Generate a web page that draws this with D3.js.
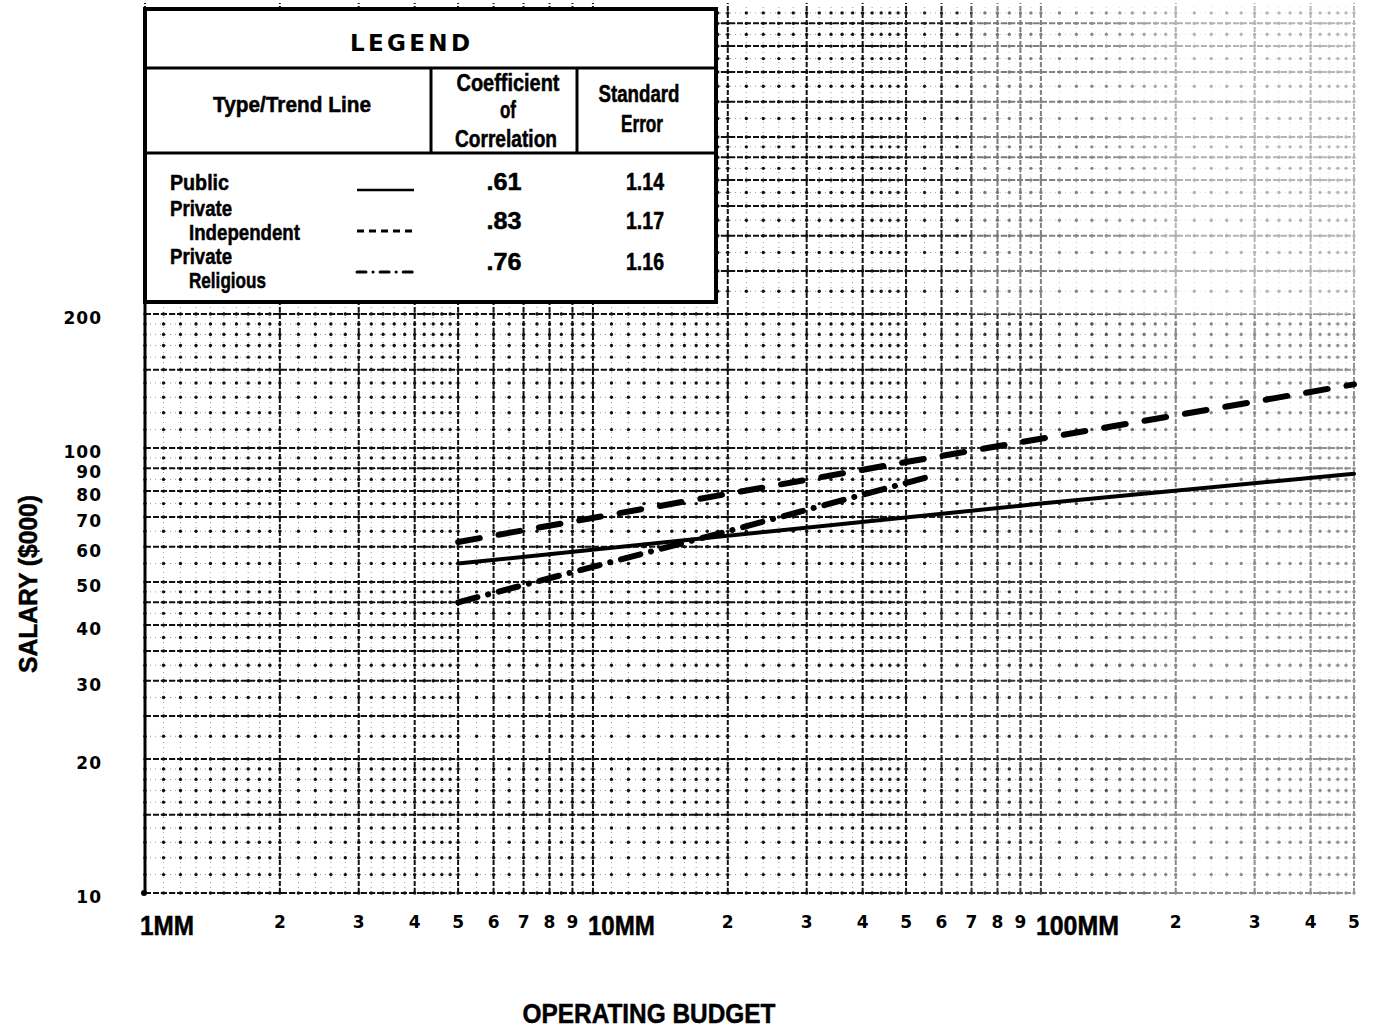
<!DOCTYPE html>
<html>
<head>
<meta charset="utf-8">
<script src="https://d3js.org/d3.v7.min.js"></script>
<style>
  body { margin: 0; background: #fff; }
  svg { display: block; }
  .narrow { font-family: 'Liberation Sans', Arial, sans-serif; font-weight: bold; stroke: #000; stroke-width: 0.5px; }
  .wide { font-family: 'DejaVu Sans', 'Liberation Sans', sans-serif; font-weight: bold; }
</style>
</head>
<body>
<div id="chart"></div>
<script>
// Trend lines (operating budget in $, salary in $000)
const publicLine = [
  { budget: 5e6, salary: 55 },
  { budget: 1e8, salary: 75 },
  { budget: 5e8, salary: 87.5 }
];
const independentLine = [
  { budget: 5e6, salary: 61.5 },
  { budget: 5e7, salary: 93 },
  { budget: 5e8, salary: 139 }
];
const religiousLine = [
  { budget: 5e6, salary: 45 },
  { budget: 2e7, salary: 65 },
  { budget: 5.7e7, salary: 86.5 }
];

// Legend table
const legendTypes = [['Public'], ['Private', 'Independent'], ['Private', 'Religious']];
const legendCoefficients = ['.61', '.83', '.76'];
const legendErrors = ['1.14', '1.17', '1.16'];

// Axis tick labels
const xTickValues = [1e6, 2e6, 3e6, 4e6, 5e6, 6e6, 7e6, 8e6, 9e6, 1e7, 2e7, 3e7, 4e7, 5e7, 6e7, 7e7, 8e7, 9e7, 1e8, 2e8, 3e8, 4e8, 5e8];
const xTickLabels = ['1MM', '2', '3', '4', '5', '6', '7', '8', '9', '10MM', '2', '3', '4', '5', '6', '7', '8', '9', '100MM', '2', '3', '4', '5'];
const yTickValues = [10, 20, 30, 40, 50, 60, 70, 80, 90, 100, 200];

const W = 1377, H = 1028;
const svg = d3.select('#chart').append('svg').attr('width', W).attr('height', H);

const x = d3.scaleLog().domain([1e6, 5e8]).range([145, 1354]);
const y = d3.scaleLog().domain([10, 1000]).range([893, 3]);

// condensed type is faked by squeezing Liberation Sans to a measured width
function narrowText(g, txt, px, py, size, width, anchor) {
  const t = g.append('text').attr('class', 'narrow')
    .attr('x', px).attr('y', py)
    .attr('text-anchor', anchor || 'start')
    .style('font-size', size + 'px')
    .text(txt);
  if (width) t.attr('textLength', width).attr('lengthAdjust', 'spacingAndGlyphs');
  return t;
}

// ---- graph paper grid ----
const xMinor = [], yMinor = [], xMajor = [], yMajor = [];
for (let dec = 1e6; dec < 5e8; dec *= 10) {
  for (let k = 1; k < 10; k++) { if (k * dec <= 5e8) xMajor.push(k * dec); }
  for (let v = 1; v < 10 - 1e-9; v += (v < 2 - 1e-9 ? 0.1 : v < 5 - 1e-9 ? 0.2 : 0.5)) {
    if (v * dec <= 5e8 + 1) xMinor.push(v * dec);
  }
}
for (let dec = 10; dec < 1000; dec *= 10) {
  [1, 1.5, 2, 2.5, 3, 3.5, 4, 4.5, 5, 6, 7, 8, 9].forEach(k => yMajor.push(k * dec));
  for (let v = 1; v < 10 - 1e-9; v += (v < 2 - 1e-9 ? 0.1 : v < 5 - 1e-9 ? 0.25 : 0.5)) yMinor.push(v * dec);
}

const grid = svg.append('g').attr('class', 'grid');
const [x0, x1] = x.range();
const [y0, y1] = y.range();

// faint dotted minor rules
grid.selectAll('.vmin').data(xMinor).enter().append('line')
  .attr('x1', d => x(d)).attr('x2', d => x(d)).attr('y1', y0).attr('y2', y1)
  .attr('stroke', '#444').attr('stroke-width', 0.9).attr('stroke-dasharray', '1,4').attr('opacity', 0.6);
grid.selectAll('.hmin').data(yMinor).enter().append('line')
  .attr('x1', x0).attr('x2', x1).attr('y1', d => y(d)).attr('y2', d => y(d))
  .attr('stroke', '#444').attr('stroke-width', 0.9).attr('stroke-dasharray', '1,4').attr('opacity', 0.6);

// dots at minor intersections
const dots = [];
xMinor.forEach(a => yMinor.forEach(b => dots.push([a, b])));
grid.selectAll('.dot').data(dots).enter().append('circle')
  .attr('cx', d => x(d[0])).attr('cy', d => y(d[1])).attr('r', 1.7).attr('fill', '#111');

// major rules, broken dashes like the printed paper
grid.selectAll('.vmaj').data(xMajor).enter().append('line')
  .attr('x1', d => x(d)).attr('x2', d => x(d)).attr('y1', y0).attr('y2', y1)
  .attr('stroke', '#111').attr('stroke-width', 2).attr('stroke-dasharray', '5,2');
grid.selectAll('.hmaj').data(yMajor).enter().append('line')
  .attr('x1', x0).attr('x2', x1).attr('y1', d => y(d)).attr('y2', d => y(d))
  .attr('stroke', '#111').attr('stroke-width', 2).attr('stroke-dasharray', '6,2');

// scan fades out toward the upper right
const fade = svg.append('defs').append('linearGradient').attr('id', 'fade')
  .attr('x1', 0).attr('x2', 1).attr('y1', 0).attr('y2', 0);
fade.append('stop').attr('offset', '0%').attr('stop-color', '#fff').attr('stop-opacity', 0);
fade.append('stop').attr('offset', '45%').attr('stop-color', '#fff').attr('stop-opacity', 0.25);
fade.append('stop').attr('offset', '60%').attr('stop-color', '#fff').attr('stop-opacity', 0.5);
fade.append('stop').attr('offset', '100%').attr('stop-color', '#fff').attr('stop-opacity', 0.55);
svg.append('rect').attr('x', x(4e7)).attr('y', 0).attr('width', W - x(4e7)).attr('height', y0 + 2)
  .attr('fill', 'url(#fade)');
svg.append('rect').attr('x', x(7e7)).attr('y', 0).attr('width', W - x(7e7)).attr('height', y(200))
  .attr('fill', '#fff').attr('opacity', 0.35);

// left frame
svg.append('line').attr('x1', x0).attr('x2', x0).attr('y1', 10).attr('y2', y0)
  .attr('stroke', '#000').attr('stroke-width', 3);
svg.append('circle').attr('cx', x0 - 1).attr('cy', y0).attr('r', 3).attr('fill', '#000');

// ---- trend lines ----
const line = d3.line().x(d => x(d.budget)).y(d => y(d.salary));
const styles = [
  { data: publicLine, dash: null, width: 4 },
  { data: independentLine, dash: '22,19', width: 6 },
  { data: religiousLine, dash: '20,11,0.1,11', width: 6 }
];
svg.append('g').selectAll('path').data(styles).enter().append('path')
  .attr('d', d => line(d.data))
  .attr('fill', 'none').attr('stroke', '#000')
  .attr('stroke-width', d => d.width)
  .attr('stroke-linecap', 'round')
  .attr('stroke-dasharray', d => d.dash);

// ---- axes labels ----
const xl = svg.append('g');
const bigWidths = { '1MM': 54, '10MM': 67, '100MM': 83 };
xTickValues.forEach((v, i) => {
  const lab = xTickLabels[i];
  if (bigWidths[lab]) {
    narrowText(xl, lab, x(v) - 5, 935, 27, bigWidths[lab]);
  } else {
    xl.append('text').attr('class', 'wide')
      .attr('x', x(v)).attr('y', 928)
      .attr('text-anchor', 'middle')
      .style('font-size', '17px')
      .text(lab);
  }
});

const yl = svg.append('g');
yl.selectAll('text').data(yTickValues).enter().append('text')
  .attr('class', 'wide')
  .attr('x', 102).attr('y', d => y(d) + 10)
  .attr('text-anchor', 'end')
  .style('font-size', '17px').style('letter-spacing', '1px')
  .text(d => d);

narrowText(svg, 'SALARY ($000)', 0, 0, 26, 178, 'middle')
  .attr('transform', 'translate(37,584) rotate(-90)');

narrowText(svg, 'OPERATING BUDGET', 649, 1023, 27, 253, 'middle');

// ---- legend table ----
const lg = svg.append('g');
lg.append('rect').attr('x', 145).attr('y', 9).attr('width', 571).attr('height', 293)
  .attr('fill', '#fff').attr('stroke', '#000').attr('stroke-width', 4);
[68, 153].forEach(v => lg.append('line').attr('x1', 145).attr('x2', 716).attr('y1', v).attr('y2', v)
  .attr('stroke', '#000').attr('stroke-width', 3));
[431, 577].forEach(v => lg.append('line').attr('x1', v).attr('x2', v).attr('y1', 68).attr('y2', 153)
  .attr('stroke', '#000').attr('stroke-width', 3));

lg.append('text').attr('class', 'wide').attr('x', 410).attr('y', 51).attr('text-anchor', 'middle')
  .style('font-size', '23px').attr('textLength', 120).attr('lengthAdjust', 'spacing').text('LEGEND');

narrowText(lg, 'Type/Trend Line', 292, 112, 22, 158, 'middle');
narrowText(lg, 'Coefficient', 508, 91, 23, 103, 'middle');
narrowText(lg, 'of', 508, 118, 23, 16, 'middle');
narrowText(lg, 'Correlation', 506, 147, 23, 102, 'middle');
narrowText(lg, 'Standard', 639, 102, 23, 81, 'middle');
narrowText(lg, 'Error', 642, 132, 23, 42, 'middle');

// baselines: [first line, second line, numbers, sample]
const rowY = [[190, null, 190, 190], [216, 240, 229, 231], [264, 288, 270, 272]];
const firstWidths = [59, 62, 62];
const secondWidths = [0, 111, 77];
legendTypes.forEach((t, i) => {
  const r = rowY[i];
  narrowText(lg, t[0], 170, r[0], 22, firstWidths[i]);
  if (t.length > 1) narrowText(lg, t[1], 189, r[1], 22, secondWidths[i]);
  narrowText(lg, legendCoefficients[i], 504, r[2], 23, 35, 'middle');
  narrowText(lg, legendErrors[i], 645, r[2], 23, 38, 'middle');
  lg.append('line').attr('x1', 357).attr('x2', 414).attr('y1', r[3]).attr('y2', r[3])
    .attr('stroke', '#000').attr('stroke-width', i === 0 ? 2.5 : 3)
    .attr('stroke-linecap', i === 2 ? 'round' : 'butt')
    .attr('stroke-dasharray', i === 0 ? null : i === 1 ? '7,5' : '9,7,0.1,7');
});
</script>
</body>
</html>
